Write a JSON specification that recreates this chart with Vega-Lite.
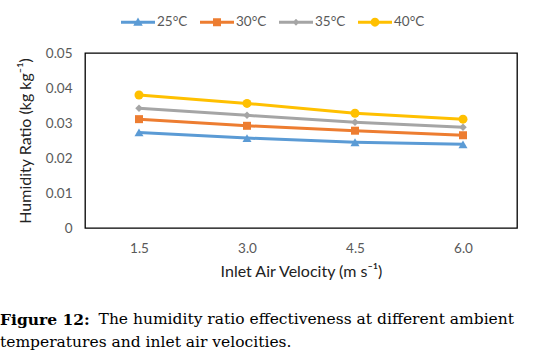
{
  "$schema": "https://vega.github.io/schema/vega-lite/v6.json",
  "width": 432,
  "height": 175,
  "autosize": "none",
  "padding": {"left": 85, "top": 53, "right": 22, "bottom": 133},
  "background": "white",
  "data": {
    "values": [
      {"v": "1.5", "t": "25°C", "h": 0.0273},
      {"v": "3.0", "t": "25°C", "h": 0.0257},
      {"v": "4.5", "t": "25°C", "h": 0.0245},
      {"v": "6.0", "t": "25°C", "h": 0.0239},
      {"v": "1.5", "t": "30°C", "h": 0.0311},
      {"v": "3.0", "t": "30°C", "h": 0.0292},
      {"v": "4.5", "t": "30°C", "h": 0.0278},
      {"v": "6.0", "t": "30°C", "h": 0.0265},
      {"v": "1.5", "t": "35°C", "h": 0.0342},
      {"v": "3.0", "t": "35°C", "h": 0.0322},
      {"v": "4.5", "t": "35°C", "h": 0.0302},
      {"v": "6.0", "t": "35°C", "h": 0.0288},
      {"v": "1.5", "t": "40°C", "h": 0.0380},
      {"v": "3.0", "t": "40°C", "h": 0.0356},
      {"v": "4.5", "t": "40°C", "h": 0.0328},
      {"v": "6.0", "t": "40°C", "h": 0.0311}
    ]
  },
  "title": {
    "text": "Figure 12:",
    "subtitle": [
      "\u200b\u00a0\u00a0\u00a0\u00a0\u00a0\u00a0\u00a0\u00a0\u00a0\u00a0\u00a0\u00a0\u00a0\u00a0\u00a0\u00a0\u00a0\u00a0\u00a0\u00a0The humidity ratio effectiveness at different ambient",
      "temperatures and inlet air velocities."
    ],
    "orient": "bottom",
    "anchor": "start",
    "frame": "group",
    "dx": -85,
    "offset": 33,
    "font": "DejaVu Serif",
    "fontSize": 15.5,
    "fontWeight": "bold",
    "color": "#000",
    "subtitleFont": "DejaVu Serif",
    "subtitleFontSize": 15.5,
    "subtitleFontWeight": "normal",
    "subtitleColor": "#000",
    "subtitleLineHeight": 23,
    "subtitlePadding": -16
  },
  "encoding": {
    "x": {
      "field": "v",
      "type": "ordinal",
      "axis": {
        "title": "Inlet Air Velocity (m s⁻¹)",
        "labelAngle": 0,
        "labelPadding": 13,
        "titlePadding": 9,
        "titleFontSize": 16
      }
    },
    "y": {
      "field": "h",
      "type": "quantitative",
      "scale": {"domain": [0, 0.05], "nice": false},
      "axis": {
        "title": "Humidity Ratio (kg kg⁻¹)",
        "values": [0, 0.01, 0.02, 0.03, 0.04, 0.05],
        "format": "~g",
        "labelPadding": 13,
        "titlePadding": 12,
        "titleFontSize": 16
      }
    }
  },
  "layer": [
    {
      "transform": [{"filter": "datum.t === '25°C'"}],
      "mark": {
        "type": "line", "strokeWidth": 3, "color": "#5B9BD5",
        "point": {"filled": true, "opacity": 1, "color": "#5B9BD5", "shape": "triangle-up", "size": 81}
      }
    },
    {
      "transform": [{"filter": "datum.t === '30°C'"}],
      "mark": {
        "type": "line", "strokeWidth": 3, "color": "#ED7D31",
        "point": {"filled": true, "opacity": 1, "color": "#ED7D31", "shape": "square", "size": 64}
      }
    },
    {
      "transform": [{"filter": "datum.t === '35°C'"}],
      "mark": {
        "type": "line", "strokeWidth": 3, "color": "#A5A5A5",
        "point": {"filled": true, "opacity": 1, "color": "#A5A5A5", "shape": "diamond", "size": 56}
      }
    },
    {
      "transform": [{"filter": "datum.t === '40°C'"}],
      "mark": {
        "type": "line", "strokeWidth": 3, "color": "#FFC000",
        "point": {"filled": true, "opacity": 1, "color": "#FFC000", "shape": "circle", "size": 81}
      }
    },
    {
      "mark": {"type": "point", "filled": true, "opacity": 0},
      "encoding": {
        "color": {
          "field": "t",
          "type": "nominal",
          "scale": {
            "domain": ["25°C", "30°C", "35°C", "40°C"],
            "range": ["#5B9BD5", "#ED7D31", "#A5A5A5", "#FFC000"]
          },
          "legend": {
            "title": null,
            "orient": "none",
            "legendX": 36,
            "legendY": -48,
            "direction": "horizontal",
            "symbolSize": 1156,
            "symbolOpacity": 1,
            "symbolStrokeWidth": 0,
            "labelFont": "Lato",
            "labelFontSize": 13.5,
            "labelColor": "#595959",
            "labelOffset": 2,
            "columnPadding": 12
          }
        },
        "shape": {
          "field": "t",
          "type": "nominal",
          "scale": {
            "domain": ["25°C", "30°C", "35°C", "40°C"],
            "range": [
              "M-1,-0.09L1,-0.09L1,0.09L-1,0.09Z M0,-0.28L0.28,0.2L-0.28,0.2Z",
              "M-1,-0.09L1,-0.09L1,0.09L-1,0.09Z M-0.235,-0.235L0.235,-0.235L0.235,0.235L-0.235,0.235Z",
              "M-1,-0.09L1,-0.09L1,0.09L-1,0.09Z M0,-0.2L0.2,0L0,0.2L-0.2,0Z",
              "M-1,-0.09L1,-0.09L1,0.09L-1,0.09Z M-0.26,0A0.26,0.26 0 1,1 0.26,0A0.26,0.26 0 1,1 -0.26,0Z"
            ]
          },
          "legend": {
            "title": null,
            "orient": "none",
            "legendX": 36,
            "legendY": -48,
            "direction": "horizontal",
            "symbolSize": 1156,
            "symbolOpacity": 1,
            "symbolStrokeWidth": 0,
            "labelFont": "Lato",
            "labelFontSize": 13.5,
            "labelColor": "#595959",
            "labelOffset": 2,
            "columnPadding": 12
          }
        }
      }
    }
  ],
  "config": {
    "view": {"stroke": "#000", "strokeWidth": 1.3},
    "axis": {
      "grid": false,
      "ticks": false,
      "tickSize": 0,
      "domain": false,
      "labelFont": "Lato",
      "labelFontSize": 13.5,
      "labelColor": "#595959",
      "titleFont": "Lato",
      "titleFontSize": 15,
      "titleFontWeight": "normal",
      "titleColor": "#222"
    }
  }
}
